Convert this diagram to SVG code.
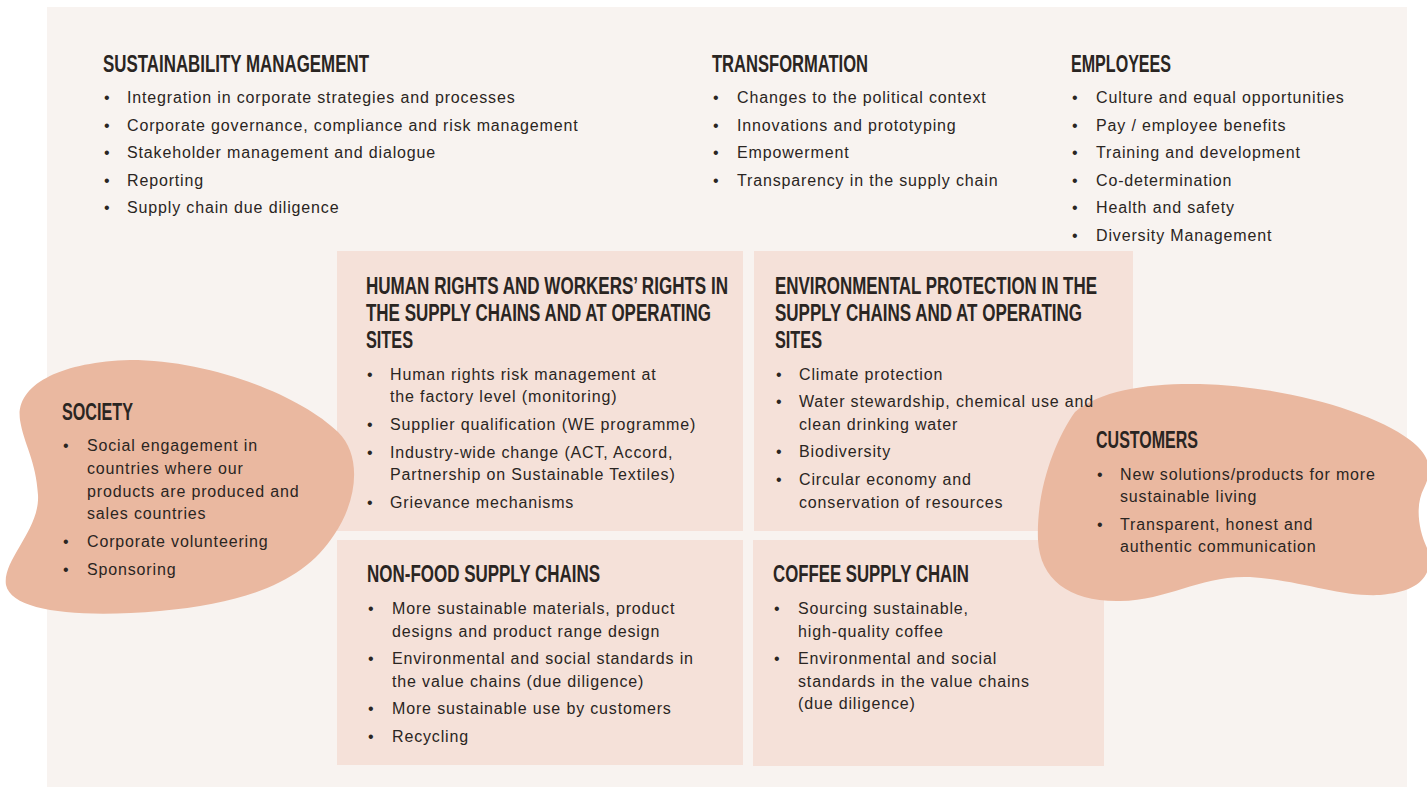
<svg xmlns="http://www.w3.org/2000/svg" width="1427" height="787" viewBox="0 0 1427 787">
<style>
.panel{fill:#f8f3f0}
.box{fill:#f5e1d9}
.blob{fill:#eab8a0}
.t{font-family:"Liberation Sans","Arial",sans-serif;font-weight:bold;font-size:23.5px;fill:#2a2522}
.b{font-family:"Liberation Sans","Arial",sans-serif;font-size:16px;fill:#2a2522;letter-spacing:0.85px}
</style>
<rect width="1427" height="787" fill="#ffffff"/>
<rect class="panel" x="47" y="7" width="1360" height="780"/>
<g id="connectors"></g>
<g id="box-human-rights"><rect class="box" x="337" y="251" width="406" height="280"/></g>
<g id="box-environment"><rect class="box" x="754" y="251" width="379" height="280"/></g>
<g id="box-nonfood"><rect class="box" x="337" y="540" width="406" height="225"/></g>
<g id="box-coffee"><rect class="box" x="753" y="540" width="351" height="226"/></g>
<g id="blob-society"><path class="blob" d="M20,420 C15,385 60,362 130,360 C210,360 300,395 338,432 C362,455 358,500 334,535 C305,580 250,603 160,611 C80,618 12,612 6,585 C2,560 40,530 38,495 C36,460 24,445 20,420 Z"/></g>
<g id="blob-customers"><path class="blob" d="M1075,412 C1100,390 1150,383 1200,384 C1280,386 1370,410 1410,440 C1430,455 1433,470 1424,488 C1415,505 1418,530 1428,550 C1434,575 1420,592 1380,595 C1340,597 1300,580 1250,577 C1200,575 1170,600 1120,601 C1070,602 1040,580 1038,540 C1036,490 1055,440 1075,412 Z"/></g>

<g id="sustainability-management">
<text class="t" transform="translate(103,72) scale(0.72,1)" textLength="369.4" lengthAdjust="spacingAndGlyphs">SUSTAINABILITY MANAGEMENT</text>
<text class="b" x="104" y="103">•</text><text class="b" x="127" y="103">Integration in corporate strategies and processes</text>
<text class="b" x="104" y="131">•</text><text class="b" x="127" y="131">Corporate governance, compliance and risk management</text>
<text class="b" x="104" y="158">•</text><text class="b" x="127" y="158">Stakeholder management and dialogue</text>
<text class="b" x="104" y="186">•</text><text class="b" x="127" y="186">Reporting</text>
<text class="b" x="104" y="213">•</text><text class="b" x="127" y="213">Supply chain due diligence</text>
</g>
<g id="transformation">
<text class="t" transform="translate(712,72) scale(0.72,1)" textLength="216.7" lengthAdjust="spacingAndGlyphs">TRANSFORMATION</text>
<text class="b" x="713" y="103">•</text><text class="b" x="737" y="103">Changes to the political context</text>
<text class="b" x="713" y="131">•</text><text class="b" x="737" y="131">Innovations and prototyping</text>
<text class="b" x="713" y="158">•</text><text class="b" x="737" y="158">Empowerment</text>
<text class="b" x="713" y="186">•</text><text class="b" x="737" y="186">Transparency in the supply chain</text>
</g>
<g id="employees">
<text class="t" transform="translate(1071,72) scale(0.72,1)" textLength="138.9" lengthAdjust="spacingAndGlyphs">EMPLOYEES</text>
<text class="b" x="1072" y="103">•</text><text class="b" x="1096" y="103">Culture and equal opportunities</text>
<text class="b" x="1072" y="131">•</text><text class="b" x="1096" y="131">Pay / employee benefits</text>
<text class="b" x="1072" y="158">•</text><text class="b" x="1096" y="158">Training and development</text>
<text class="b" x="1072" y="186">•</text><text class="b" x="1096" y="186">Co-determination</text>
<text class="b" x="1072" y="213">•</text><text class="b" x="1096" y="213">Health and safety</text>
<text class="b" x="1072" y="241">•</text><text class="b" x="1096" y="241">Diversity Management</text>
</g>
<g id="human-rights">
<text class="t" transform="translate(366,294) scale(0.72,1)" textLength="502.8" lengthAdjust="spacingAndGlyphs">HUMAN RIGHTS AND WORKERS’ RIGHTS IN</text>
<text class="t" transform="translate(366,321) scale(0.72,1)" textLength="479.2" lengthAdjust="spacingAndGlyphs">THE SUPPLY CHAINS AND AT OPERATING</text>
<text class="t" transform="translate(366,348) scale(0.72,1)" textLength="65.3" lengthAdjust="spacingAndGlyphs">SITES</text>
<text class="b" x="367" y="380">•</text><text class="b" x="390" y="380">Human rights risk management at</text>
<text class="b" x="390" y="402">the factory level (monitoring)</text>
<text class="b" x="367" y="430">•</text><text class="b" x="390" y="430">Supplier qualification (WE programme)</text>
<text class="b" x="367" y="458">•</text><text class="b" x="390" y="458">Industry-wide change (ACT, Accord,</text>
<text class="b" x="390" y="480">Partnership on Sustainable Textiles)</text>
<text class="b" x="367" y="508">•</text><text class="b" x="390" y="508">Grievance mechanisms</text>
</g>
<g id="environmental-protection">
<text class="t" transform="translate(775,294) scale(0.72,1)" textLength="447.2" lengthAdjust="spacingAndGlyphs">ENVIRONMENTAL PROTECTION IN THE</text>
<text class="t" transform="translate(775,321) scale(0.72,1)" textLength="426.4" lengthAdjust="spacingAndGlyphs">SUPPLY CHAINS AND AT OPERATING</text>
<text class="t" transform="translate(775,348) scale(0.72,1)" textLength="65.3" lengthAdjust="spacingAndGlyphs">SITES</text>
<text class="b" x="776" y="380">•</text><text class="b" x="799" y="380">Climate protection</text>
<text class="b" x="776" y="407">•</text><text class="b" x="799" y="407">Water stewardship, chemical use and</text>
<text class="b" x="799" y="430">clean drinking water</text>
<text class="b" x="776" y="457">•</text><text class="b" x="799" y="457">Biodiversity</text>
<text class="b" x="776" y="485">•</text><text class="b" x="799" y="485">Circular economy and</text>
<text class="b" x="799" y="508">conservation of resources</text>
</g>
<g id="non-food-supply-chains">
<text class="t" transform="translate(367,582) scale(0.72,1)" textLength="323.6" lengthAdjust="spacingAndGlyphs">NON-FOOD SUPPLY CHAINS</text>
<text class="b" x="368" y="614">•</text><text class="b" x="392" y="614">More sustainable materials, product</text>
<text class="b" x="392" y="637">designs and product range design</text>
<text class="b" x="368" y="664">•</text><text class="b" x="392" y="664">Environmental and social standards in</text>
<text class="b" x="392" y="687">the value chains (due diligence)</text>
<text class="b" x="368" y="714">•</text><text class="b" x="392" y="714">More sustainable use by customers</text>
<text class="b" x="368" y="742">•</text><text class="b" x="392" y="742">Recycling</text>
</g>
<g id="coffee-supply-chain">
<text class="t" transform="translate(773,582) scale(0.72,1)" textLength="272.2" lengthAdjust="spacingAndGlyphs">COFFEE SUPPLY CHAIN</text>
<text class="b" x="774" y="614">•</text><text class="b" x="798" y="614">Sourcing sustainable,</text>
<text class="b" x="798" y="637">high-quality coffee</text>
<text class="b" x="774" y="664">•</text><text class="b" x="798" y="664">Environmental and social</text>
<text class="b" x="798" y="687">standards in the value chains</text>
<text class="b" x="798" y="709">(due diligence)</text>
</g>
<g id="society">
<text class="t" transform="translate(62,420) scale(0.72,1)" textLength="98.6" lengthAdjust="spacingAndGlyphs">SOCIETY</text>
<text class="b" x="63" y="451">•</text><text class="b" x="87" y="451">Social engagement in</text>
<text class="b" x="87" y="474">countries where our</text>
<text class="b" x="87" y="497">products are produced and</text>
<text class="b" x="87" y="519">sales countries</text>
<text class="b" x="63" y="547">•</text><text class="b" x="87" y="547">Corporate volunteering</text>
<text class="b" x="63" y="575">•</text><text class="b" x="87" y="575">Sponsoring</text>
</g>
<g id="customers">
<text class="t" transform="translate(1096,448) scale(0.72,1)" textLength="141.7" lengthAdjust="spacingAndGlyphs">CUSTOMERS</text>
<text class="b" x="1097" y="480">•</text><text class="b" x="1120" y="480">New solutions/products for more</text>
<text class="b" x="1120" y="502">sustainable living</text>
<text class="b" x="1097" y="530">•</text><text class="b" x="1120" y="530">Transparent, honest and</text>
<text class="b" x="1120" y="552">authentic communication</text>
</g>
</svg>
